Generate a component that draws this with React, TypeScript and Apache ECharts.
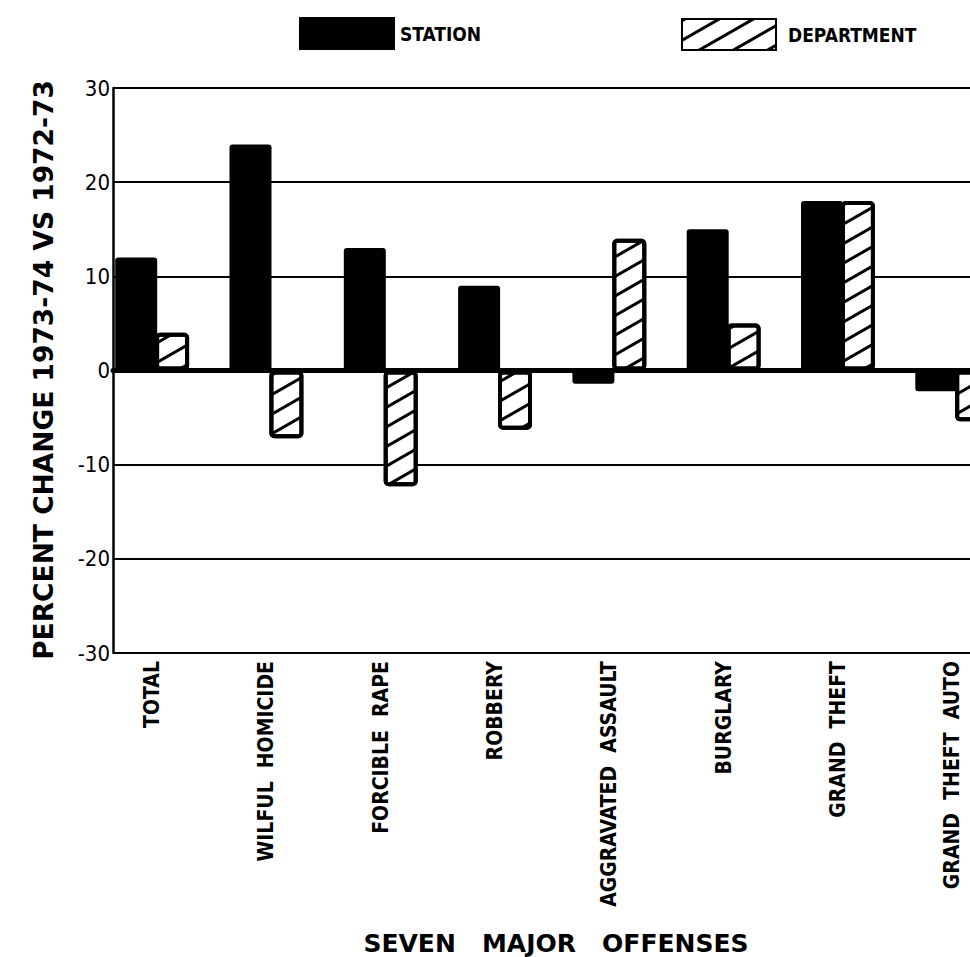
import React, { useEffect, useRef } from "react";
import * as echarts from "echarts";

const categories = [
  "TOTAL",
  "WILFUL  HOMICIDE",
  "FORCIBLE  RAPE",
  "ROBBERY",
  "AGGRAVATED  ASSAULT",
  "BURGLARY",
  "GRAND  THEFT",
  "GRAND  THEFT  AUTO",
];
const stationValues = [12, 24, 13, 9, -1.4, 15, 18, -2.2];
const departmentValues = [4, -7.2, -12.3, -6.3, 14, 5, 18, -5.4];
const yTicks = { min: -30, max: 30, interval: 10 };
const yTitle = "PERCENT CHANGE 1973-74 VS 1972-73";
const xTitle = "SEVEN   MAJOR   OFFENSES";

const COND = '"DejaVu Sans Condensed", "Liberation Sans Narrow", "DejaVu Sans", sans-serif';
const BOLD = '"DejaVu Sans", "Liberation Sans", sans-serif';

export default function App() {
  const ref = useRef<HTMLDivElement>(null);
  useEffect(() => {
    if (!ref.current) return;
    const chart = echarts.init(ref.current, null, { renderer: "svg" });
    chart.setOption({
      animation: false,
      backgroundColor: "#fff",
      legend: [
        {
          data: ["STATION"],
          left: 299,
          top: 17,
          padding: 0,
          itemWidth: 96,
          itemHeight: 33,
          icon: "rect",
          textStyle: { fontFamily: COND, fontSize: 19, color: "#000", fontWeight: "bold" },
        },
        {
          data: ["DEPARTMENT"],
          left: 681,
          top: 18,
          padding: 0,
          itemWidth: 94,
          itemHeight: 31,
          icon: "rect",
          textStyle: {
            fontFamily: COND,
            fontSize: 19,
            color: "#000",
            fontWeight: "bold",
            padding: [0, 0, 0, 7],
          },
        },
      ],
      grid: [
        { left: 113, top: 88, height: 565, right: 0 },
        { left: 95, top: 88, height: 565, width: 114.3 * 8 },
      ],
      xAxis: [
        {
          gridIndex: 0,
          type: "value",
          min: 0,
          max: 1,
          axisLine: { show: true, onZero: true, lineStyle: { color: "#000", width: 5 } },
          axisTick: { show: false },
          axisLabel: { show: false },
          splitLine: { show: false },
        },
        {
          gridIndex: 1,
          type: "category",
          data: categories,
          axisLine: { show: false },
          axisTick: { show: false },
          axisLabel: {
            rotate: 90,
            interval: 0,
            margin: 8,
            fontFamily: COND,
            fontSize: 21,
            fontWeight: "bold",
            color: "#000",
          },
        },
      ],
      yAxis: [
        {
          gridIndex: 0,
          type: "value",
          min: yTicks.min,
          max: yTicks.max,
          interval: yTicks.interval,
          axisLine: { show: true, lineStyle: { color: "#000", width: 2.5 } },
          axisTick: { show: false },
          axisLabel: {
            margin: 3,
            fontFamily: COND,
            fontSize: 22,
            color: "#000",
          },
          splitLine: { show: true, lineStyle: { color: "#000", width: 2 } },
        },
        {
          gridIndex: 1,
          type: "value",
          min: yTicks.min,
          max: yTicks.max,
          interval: yTicks.interval,
          show: false,
        },
      ],
      series: [
        {
          name: "STATION",
          type: "bar",
          xAxisIndex: 1,
          yAxisIndex: 1,
          data: stationValues,
          barWidth: 42,
          barGap: "-5%",
          itemStyle: { color: "#000", borderRadius: 3 },
          z: 3,
        },
        {
          name: "DEPARTMENT",
          type: "bar",
          xAxisIndex: 1,
          yAxisIndex: 1,
          data: departmentValues,
          barWidth: 34,
          barGap: "-5%",
          itemStyle: {
            color: "#fff",
            borderColor: "#000",
            borderWidth: 4,
            borderRadius: 3,
            decal: {
              symbol: "rect",
              symbolSize: 1,
              color: "#000",
              dashArrayX: [1, 0],
              dashArrayY: [3, 14],
              rotation: -0.52,
            },
          },
          z: 3,
        },
      ],
      graphic: [
        {
          type: "text",
          x: 43,
          y: 370,
          rotation: Math.PI / 2,
          style: {
            text: yTitle,
            fontFamily: BOLD,
            fontWeight: "bold",
            fontSize: 26.5,
            fill: "#000",
            textAlign: "center",
            textVerticalAlign: "middle",
          },
        },
        {
          type: "text",
          x: 556,
          y: 943,
          style: {
            text: xTitle,
            fontFamily: BOLD,
            fontWeight: "bold",
            fontSize: 25,
            fill: "#000",
            textAlign: "center",
            textVerticalAlign: "middle",
          },
        },
      ],
    });
    return () => chart.dispose();
  }, []);
  return (
    <div
      style={{
        position: "fixed",
        left: 0,
        top: 0,
        width: 970,
        height: 957,
        overflow: "hidden",
        background: "#fff",
      }}
    >
      <div ref={ref} style={{ width: 1040, height: 957 }} />
    </div>
  );
}
